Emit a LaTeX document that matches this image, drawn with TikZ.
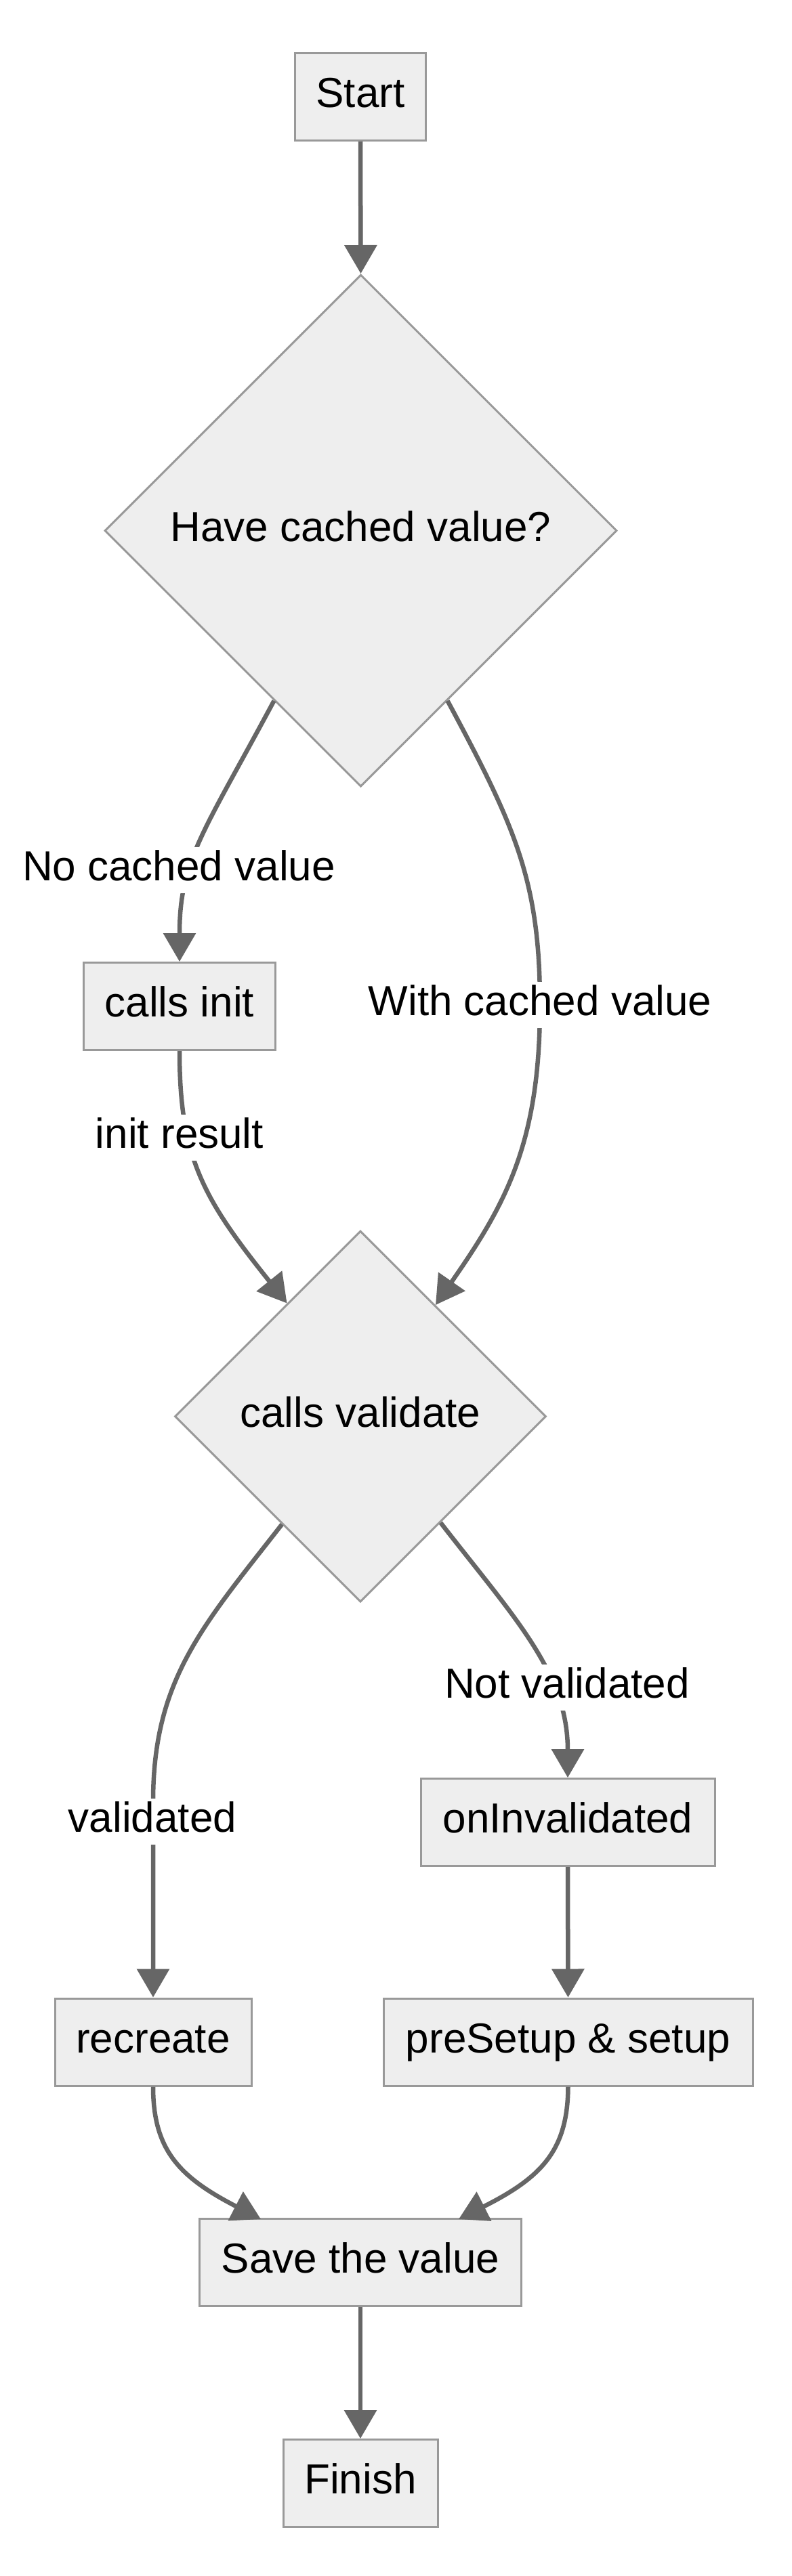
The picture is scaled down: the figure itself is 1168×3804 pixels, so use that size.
\documentclass[tikz,border=0pt]{standalone}
\usepackage{fontspec}
\setmainfont{Liberation Sans}
\usetikzlibrary{shapes.geometric,arrows.meta}
\definecolor{nodefill}{HTML}{EEEEEE}
\definecolor{nodeline}{HTML}{999999}
\definecolor{edgeline}{HTML}{666666}
\begin{document}
\begin{tikzpicture}[x=1pt,y=-1pt,
  every node/.style={font=\fontsize{62}{74}\selectfont, text height=46.5pt, text depth=15.5pt, inner sep=0pt},
  box/.style={draw=nodeline, fill=nodefill, line width=3pt, rectangle, minimum height=129pt},
  dia/.style={draw=nodeline, fill=nodefill, line width=3pt, diamond, aspect=1},
  lbl/.style={fill=white, inner sep=3pt},
  edge/.style={draw=edgeline, line width=6.5pt, -{Triangle[length=42pt,width=47pt]}}]
\useasboundingbox (0,0) rectangle (1168,3804);
\fill[white] (0,0) rectangle (1168,3804);

% nodes
\node[box, minimum width=193pt] (start) at (532,143) {Start};
\node[dia, minimum size=756pt] (d1) at (532.5,783.5) {Have cached value?};
\node[box, minimum width=283pt] (init) at (265,1486) {calls init};
\node[dia, minimum size=548pt] (d2) at (532,2091.5) {calls validate};
\node[box, minimum width=434pt] (oninv) at (838,2691) {onInvalidated};
\node[box, minimum width=290pt] (recreate) at (226,3015.5) {recreate};
\node[box, minimum width=545pt] (setup) at (838.5,3015.5) {preSetup \& setup};
\node[box, minimum width=475pt] (save) at (532,3341) {Save the value};
\node[box, minimum width=228pt] (finish) at (532,3667) {Finish};

% edges
\draw[edge] (start.south) -- (d1.north);
\draw[edge] (d1.-117) .. controls (300,1230) and (265,1270) .. (init.north);
\draw[edge] (d1.-63) .. controls (760,1220) and (797,1300) .. (797,1484)
  .. controls (797,1690) and (745,1780) .. (d2.56.5);
\draw[edge] (init.south) .. controls (265,1710) and (300,1770) .. (d2.123.2);
\draw[edge] (d2.-126.4) .. controls (300,2400) and (226,2480) .. (226,2660) -- (recreate.north);
\draw[edge] (d2.-53.6) .. controls (760,2390) and (838,2470) .. (oninv.north);
\draw[edge] (oninv.south) -- (setup.north);
\draw[edge] (recreate.south) .. controls (226,3175) and (265,3215) .. (385,3277);
\draw[edge] (setup.south) .. controls (838,3175) and (800,3215) .. (677,3277);
\draw[edge] (save.south) -- (finish.north);

% edge labels
\node[lbl] (l1) at (264,1285) {No cached value};
\node[lbl] (l2) at (797,1484) {With cached value};
\node[lbl] (l3) at (265,1680) {init result};
\node[lbl] (l4) at (225,2690) {validated};
\node[lbl] (l5) at (837,2492) {Not validated};
\end{tikzpicture}
\end{document}
